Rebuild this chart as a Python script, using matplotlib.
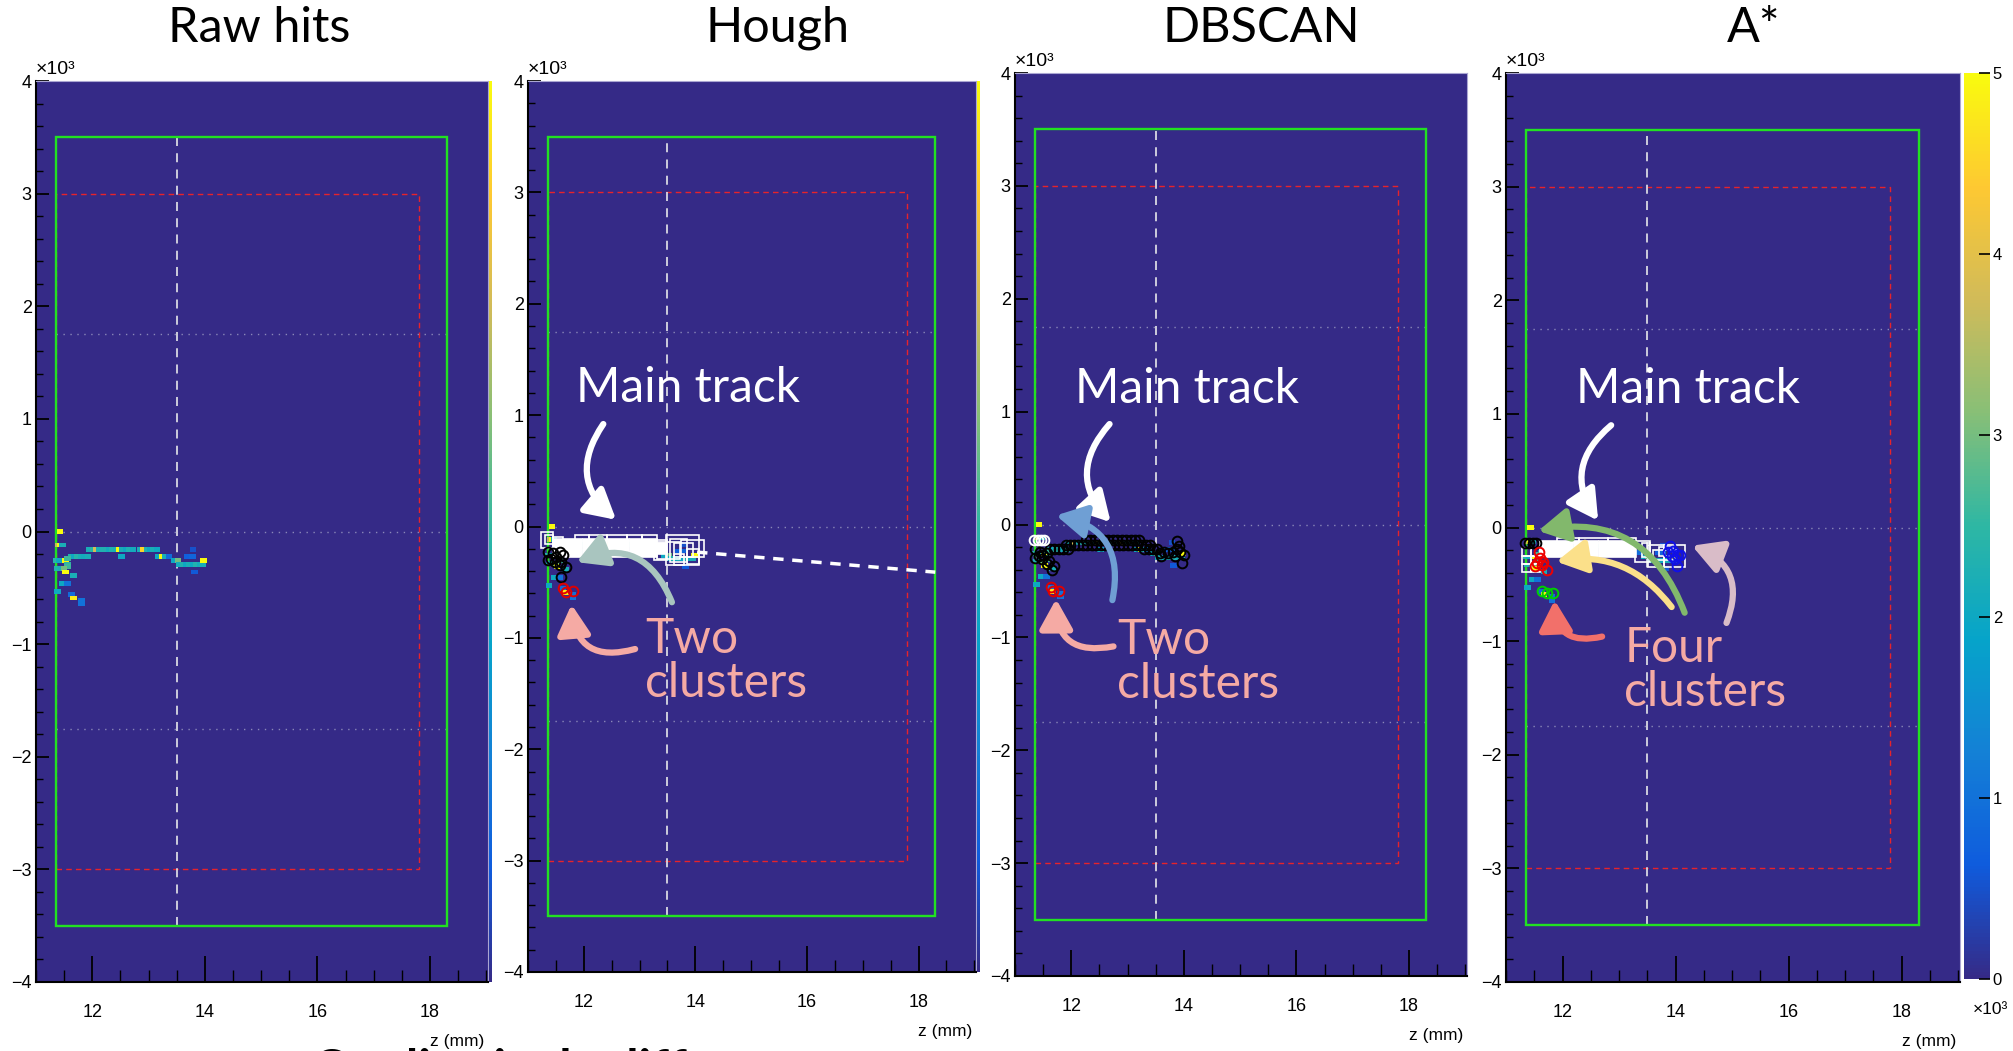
"""
Track clustering comparison: raw hits, Hough, DBSCAN and A*
Recreated as a 4-panel z-y hit map with cluster overlays
"""

import numpy as np
import matplotlib
matplotlib.use('Agg')
import matplotlib.pyplot as plt
from matplotlib.colors import LinearSegmentedColormap
from matplotlib.patches import Rectangle, FancyArrowPatch
from matplotlib.ticker import MultipleLocator

plt.rcParams['font.family'] = ['Liberation Sans', 'DejaVu Sans']

# ROOT kBird palette
bird_stops = [0.0, 0.125, 0.25, 0.375, 0.5, 0.625, 0.75, 0.875, 1.0]
bird_r = [0.2082, 0.0592, 0.0780, 0.0232, 0.1802, 0.5301, 0.8186, 0.9956, 0.9764]
bird_g = [0.1664, 0.3599, 0.5041, 0.6419, 0.7178, 0.7492, 0.7328, 0.7862, 0.9832]
bird_b = [0.5293, 0.8684, 0.8385, 0.7914, 0.6425, 0.4662, 0.3499, 0.1968, 0.0539]
cmap = LinearSegmentedColormap.from_list(
    'kBird', list(zip(bird_stops, zip(bird_r, bird_g, bird_b))))

# raw hits: z (x10^3 mm), y (x10^3 mm), charge
hits_z = [11.43, 11.39, 11.43, 11.47,
          11.95, 12.01, 12.07, 12.13, 12.19, 12.30, 12.36, 12.42, 12.48, 12.54,
          12.60, 12.66, 12.72, 12.85, 12.91, 12.97, 13.03, 13.09, 13.15,
          12.52,
          11.62, 11.68, 11.74, 11.80, 11.86, 11.92, 13.18, 13.24, 13.30, 13.36,
          11.36, 11.42, 11.52, 13.45, 13.52,
          13.55, 13.61, 13.67, 13.73, 13.79, 13.85, 13.91, 13.96,
          13.98, 11.56, 11.56, 11.56,
          11.38, 11.44, 11.50, 11.52, 11.67, 11.47, 11.56, 11.38, 11.63, 11.67,
          11.81, 11.81, 13.69, 13.78, 13.82, 13.79]
hits_y = [0.00, -0.12, -0.12, -0.12,
          -0.16, -0.16, -0.16, -0.16, -0.16, -0.16, -0.16, -0.16, -0.16, -0.16,
          -0.16, -0.16, -0.16, -0.16, -0.16, -0.16, -0.16, -0.16, -0.16,
          -0.22,
          -0.22, -0.22, -0.22, -0.22, -0.22, -0.22, -0.22, -0.22, -0.22, -0.22,
          -0.26, -0.26, -0.26, -0.26, -0.26,
          -0.29, -0.29, -0.29, -0.29, -0.29, -0.29, -0.29, -0.29,
          -0.26, -0.24, -0.29, -0.31,
          -0.33, -0.33, -0.33, -0.36, -0.39, -0.46, -0.46, -0.53, -0.56, -0.59,
          -0.61, -0.64, -0.22, -0.22, -0.36, -0.16]
hits_q = [5000, 3600, 5000, 2200,
          2200, 2400, 3800, 2200, 2300, 2100, 2300, 2200, 5000, 2200,
          2000, 2300, 2100, 2200, 4500, 2300, 2000, 2200, 2000,
          2000,
          2300, 2000, 2400, 2200, 2100, 2200, 2000, 5000, 2200, 900,
          2400, 2000, 5000, 2000, 3000,
          2100, 2300, 2000, 2200, 2000, 2300, 2100, 2200,
          5000, 2600, 2500, 2600,
          2300, 2200, 3000, 5000, 2200, 2000, 1000, 2000, 900, 4800,
          1000, 1000, 700, 800, 600, 500]

# Hough clusters
hough_boxes = [(11.24, 11.45, -0.19, -0.05), (11.30, 11.45, -0.16, -0.08),
               (11.45, 11.63, -0.17, -0.09), (11.84, 12.10, -0.13, -0.08),
               (12.10, 12.42, -0.13, -0.08), (12.42, 12.78, -0.13, -0.08),
               (12.78, 13.05, -0.13, -0.08), (13.05, 13.31, -0.13, -0.08),
               (13.25, 13.50, -0.30, -0.12), (13.31, 13.73, -0.29, -0.14),
               (13.47, 14.06, -0.35, -0.08), (13.55, 13.85, -0.32, -0.11),
               (13.62, 13.95, -0.27, -0.15), (13.75, 14.15, -0.27, -0.12),
               (13.85, 14.06, -0.34, -0.20), (13.62, 13.80, -0.35, -0.25)]
hough_core = [(11.45, 11.97, -0.27, -0.11), (11.99, 12.42, -0.28, -0.11),
              (12.44, 12.81, -0.27, -0.11), (12.83, 13.31, -0.27, -0.11),
              (13.31, 13.50, -0.25, -0.15)]
hough_black_z = [11.36, 11.36, 11.45, 11.51, 11.57, 11.60, 11.69, 11.57, 11.60, 11.48, 11.42, 11.63]
hough_black_y = [-0.23, -0.30, -0.24, -0.27, -0.23, -0.32, -0.36, -0.35, -0.45, -0.32, -0.29, -0.26]
hough_red_z = [11.63, 11.69, 11.81]
hough_red_y = [-0.55, -0.59, -0.58]
hough_line_z = [14.03, 18.30]
hough_line_y = [-0.23, -0.41]

# DBSCAN clusters
dbscan_black_z = [12.26, 12.34, 12.42, 12.50, 12.58, 12.66, 12.74, 12.82, 12.90, 12.98, 13.06, 13.14, 13.20,
                  11.91, 11.98, 12.05, 12.12, 12.20, 12.28, 12.36, 12.44, 12.52, 12.60, 12.68, 12.76,
                  12.84, 12.92, 13.00, 13.08, 13.16, 13.24, 13.32, 13.40,
                  11.62, 11.70, 11.78, 11.86, 11.94, 13.30, 13.38, 13.46, 13.52,
                  11.36, 11.36, 11.45, 11.50, 11.57, 11.60, 11.69, 11.57, 11.48, 11.42, 11.66,
                  13.58, 13.65, 13.72, 13.80, 13.87, 13.94, 13.88, 13.92, 13.84, 13.97, 13.60, 14.00]
dbscan_black_y = [-0.14, -0.14, -0.14, -0.14, -0.14, -0.14, -0.14, -0.14, -0.14, -0.14, -0.14, -0.14, -0.14,
                  -0.18, -0.18, -0.18, -0.18, -0.18, -0.18, -0.18, -0.18, -0.18, -0.18, -0.18, -0.18,
                  -0.18, -0.18, -0.18, -0.18, -0.18, -0.18, -0.18, -0.18,
                  -0.22, -0.22, -0.22, -0.22, -0.22, -0.22, -0.22, -0.22, -0.22,
                  -0.22, -0.30, -0.24, -0.27, -0.25, -0.32, -0.37, -0.35, -0.31, -0.28, -0.40,
                  -0.25, -0.24, -0.25, -0.24, -0.22, -0.24, -0.15, -0.19, -0.28, -0.34, -0.28, -0.27]
dbscan_white_z = [11.34, 11.40, 11.46, 11.52]
dbscan_white_y = [-0.135, -0.135, -0.135, -0.135]
dbscan_red_z = [11.64, 11.67, 11.79]
dbscan_red_y = [-0.55, -0.59, -0.59]

# A* clusters
astar_boxes = [(11.28, 11.44, -0.25, -0.18), (11.44, 11.60, -0.25, -0.18),
               (11.28, 11.44, -0.32, -0.25), (11.44, 11.60, -0.32, -0.25),
               (11.28, 11.44, -0.39, -0.32), (11.44, 11.60, -0.39, -0.32),
               (11.90, 12.30, -0.14, -0.09), (12.30, 12.80, -0.14, -0.09),
               (12.80, 13.30, -0.14, -0.09), (13.28, 13.55, -0.30, -0.12),
               (13.40, 13.55, -0.26, -0.14), (13.52, 13.80, -0.35, -0.15),
               (13.80, 14.17, -0.35, -0.15), (13.60, 14.00, -0.29, -0.20),
               (13.70, 13.95, -0.25, -0.17)]
astar_core = [(11.60, 12.18, -0.26, -0.12), (12.20, 12.63, -0.26, -0.12),
              (12.65, 13.30, -0.26, -0.12)]
astar_black_z = [11.33, 11.40, 11.47, 11.53]
astar_black_y = [-0.135, -0.135, -0.135, -0.135]
astar_red_z = [11.58, 11.60, 11.55, 11.63, 11.72, 11.66, 11.52]
astar_red_y = [-0.22, -0.27, -0.31, -0.33, -0.37, -0.30, -0.34]
astar_green_z = [11.63, 11.72, 11.83]
astar_green_y = [-0.56, -0.58, -0.58]
astar_blue_z = [13.90, 13.96, 13.87, 14.02, 13.93, 14.08, 13.99, 14.02]
astar_blue_y = [-0.16, -0.21, -0.22, -0.24, -0.25, -0.24, -0.28, -0.34]

# detector guides (x10^3 mm)
fid_z = (11.35, 18.30)
fid_y = 3.5
inner_z = (11.35, 17.80)
inner_y = 3.0
center_z = 13.5
dotted_y = [1.75, 0.0, -1.75]

titles = ['Raw hits', 'Hough', 'DBSCAN', 'A*']
title_x = [259, 778, 1261, 1754]
ytick_vals = [-4, -3, -2, -1, 0, 1, 2, 3, 4]
xtick_vals = [12, 14, 16, 18]
cbar_ticks = [0, 1000, 2000, 3000, 4000, 5000]

W, H = 2013, 1051
BG = cmap(0.0)
PINK = '#f5aaa4'


def px_rect(left, top, right, bottom):
    return [left / W, 1 - bottom / H, (right - left) / W, (bottom - top) / H]


def setup_panel(ax):
    ax.set_facecolor(BG)
    ax.set_xlim(11.0, 19.03)
    ax.set_ylim(-4, 4)
    ax.set_xticks(xtick_vals)
    ax.set_xticklabels([str(v) for v in xtick_vals])
    ax.set_yticks(ytick_vals)
    ax.set_yticklabels([str(v).replace('-', '\u2212') for v in ytick_vals])
    ax.xaxis.set_minor_locator(MultipleLocator(0.5))
    ax.yaxis.set_minor_locator(MultipleLocator(0.2))
    ax.tick_params(axis='x', which='major', direction='in', length=19, width=1.3, pad=16, labelsize=13)
    ax.tick_params(axis='x', which='minor', direction='in', length=9, width=1.0)
    ax.tick_params(axis='y', which='major', direction='in', length=9, width=1.3, pad=3, labelsize=13)
    ax.tick_params(axis='y', which='minor', direction='in', length=5, width=1.0)
    ax.tick_params(which='both', top=False, right=False)
    for side in ['left', 'bottom']:
        ax.spines[side].set_color('black')
        ax.spines[side].set_linewidth(1.5)
    for side in ['top', 'right']:
        ax.spines[side].set_color('#aaa6d2')
        ax.spines[side].set_linewidth(0.8)

    # detector guides
    ax.add_patch(Rectangle((inner_z[0], -inner_y), inner_z[1] - inner_z[0], 2 * inner_y,
                           fill=False, ec='#e8232a', lw=1.0, ls=(0, (4, 3)), zorder=2))
    ax.add_patch(Rectangle((fid_z[0], -fid_y), fid_z[1] - fid_z[0], 2 * fid_y,
                           fill=False, ec='#22e022', lw=1.7, zorder=2.5))
    for yy in dotted_y:
        ax.plot(fid_z, [yy, yy], color='#8a87b8', lw=1.0, ls=(0, (1, 4)), zorder=2)
    ax.plot([center_z, center_z], [-fid_y, fid_y], color='#d8d8e2', lw=1.3,
            ls=(0, (5, 4)), zorder=2)

    # raw hits
    cell = [(-1, -0.75), (1, -0.75), (1, 0.75), (-1, 0.75)]
    sc = ax.scatter(hits_z, hits_y, c=hits_q, cmap=cmap, vmin=0, vmax=5000,
                    marker=cell, s=22, linewidths=0, zorder=3)

    ax.text(0.0, 1.003, '\u00d710\u00b3', transform=ax.transAxes, ha='left',
            va='bottom', fontsize=14)
    ax.annotate('z (mm)', xy=(1, 0), xycoords='axes fraction', xytext=(-3, -43),
                textcoords='offset points', ha='right', va='center', fontsize=12.5,
                annotation_clip=False)
    return sc


def draw_boxes(ax, boxes, filled):
    for z0, z1, y0, y1 in boxes:
        ax.add_patch(Rectangle((z0, y0), z1 - z0, y1 - y0,
                               fc='white' if filled else 'none', ec='white',
                               lw=1.2, zorder=4))


def draw_circles(ax, zs, ys, color):
    ax.plot(zs, ys, 'o', mfc='none', mec=color, ms=7, mew=1.4, zorder=5)


def curved_arrow(ax, start, end, rad, color):
    ax.add_patch(FancyArrowPatch(start, end, connectionstyle=f'arc3,rad={rad}',
                                 arrowstyle='-|>,head_length=0.9,head_width=0.5',
                                 mutation_scale=20, color=color, lw=4.5,
                                 shrinkA=0, shrinkB=0, zorder=7))


def label(ax, z, y, text, color):
    # y is the baseline of the last line
    ax.text(z, y, text, color=color, fontsize=34.5, family='Lato', ha='left',
            va='baseline', linespacing=1.0, zorder=8)


fig = plt.figure(figsize=(W / 100, H / 100), dpi=100)

rects = [px_rect(36, 81, 488, 982), px_rect(528, 81, 976, 972),
         px_rect(1015, 73, 1467, 976), px_rect(1506, 73, 1960, 982)]
axes = [fig.add_axes(r) for r in rects]
scs = [setup_panel(ax) for ax in axes]

for t, x in zip(titles, title_x):
    fig.text(x / W, 1 - 28 / H, t, ha='center', va='center', fontsize=35, family='Lato')

# Hough
ax = axes[1]
draw_boxes(ax, hough_core, True)
draw_boxes(ax, hough_boxes, False)
ax.plot(hough_line_z, hough_line_y, color='white', lw=2.5, ls=(0, (3, 2.5)), zorder=4)
draw_circles(ax, hough_black_z, hough_black_y, 'black')
draw_circles(ax, hough_red_z, hough_red_y, '#e00000')
label(ax, 11.86, 1.12, 'Main track', 'white')
label(ax, 13.10, -1.53, 'Two\nclusters', PINK)
curved_arrow(ax, (12.35, 0.92), (12.58, 0.06), 0.45, 'white')
curved_arrow(ax, (13.58, -0.68), (11.87, -0.32), 0.5, '#a9c5bf')
curved_arrow(ax, (12.92, -1.10), (11.78, -0.70), -0.6, PINK)

# DBSCAN
ax = axes[2]
draw_circles(ax, dbscan_black_z, dbscan_black_y, 'black')
draw_circles(ax, dbscan_white_z, dbscan_white_y, 'white')
draw_circles(ax, dbscan_red_z, dbscan_red_y, '#e00000')
label(ax, 12.07, 1.08, 'Main track', 'white')
label(ax, 12.82, -1.54, 'Two\nclusters', PINK)
curved_arrow(ax, (12.68, 0.89), (12.70, 0.02), 0.45, 'white')
curved_arrow(ax, (12.73, -0.67), (11.73, 0.08), 0.5, '#6f9fd4')
curved_arrow(ax, (12.75, -1.08), (11.73, -0.66), -0.6, PINK)

# A*
ax = axes[3]
draw_boxes(ax, astar_core, True)
draw_boxes(ax, astar_boxes, False)
draw_circles(ax, astar_black_z, astar_black_y, 'black')
draw_circles(ax, astar_red_z, astar_red_y, '#ee0000')
draw_circles(ax, astar_green_z, astar_green_y, '#00d000')
draw_circles(ax, astar_blue_z, astar_blue_y, '#1010e8')
label(ax, 12.23, 1.10, 'Main track', 'white')
label(ax, 13.09, -1.57, 'Four\nclusters', PINK)
curved_arrow(ax, (12.86, 0.90), (12.63, 0.06), 0.45, 'white')
curved_arrow(ax, (14.16, -0.75), (11.57, -0.03), 0.42, '#82b86c')
curved_arrow(ax, (13.93, -0.70), (11.89, -0.30), 0.3, '#fbe08a')
curved_arrow(ax, (14.90, -0.84), (14.29, -0.16), 0.5, '#d9bcc8')
curved_arrow(ax, (12.70, -0.96), (11.86, -0.64), -0.6, '#f2706a')
ax.annotate('\u00d710\u00b3', xy=(1, 0), xycoords='axes fraction', xytext=(22, -20),
            textcoords='offset points', ha='center', va='center', fontsize=12.5,
            annotation_clip=False)

# colour bar for A*, plus the clipped bars peeking out of the first two panels
cax = fig.add_axes(px_rect(1964, 73, 1990, 979))
cb = fig.colorbar(scs[3], cax=cax)
cb.set_ticks(cbar_ticks)
cb.set_ticklabels([str(v // 1000) for v in cbar_ticks])
cb.outline.set_visible(False)
cax.tick_params(direction='in', length=8, width=1.2, labelsize=12, pad=2)

for r_px, sc in [((489, 81, 492, 982), scs[0]), ((977, 81, 980, 972), scs[1])]:
    sax = fig.add_axes(px_rect(*r_px))
    sb = fig.colorbar(sc, cax=sax)
    sb.set_ticks([])
    sb.outline.set_visible(False)

fig.text(312 / W, -0.0328, 'Qualitatively different', fontsize=36, fontweight='bold',
         family='Lato', ha='left', va='baseline', zorder=-1)

fig.savefig('out.png', dpi=100)
